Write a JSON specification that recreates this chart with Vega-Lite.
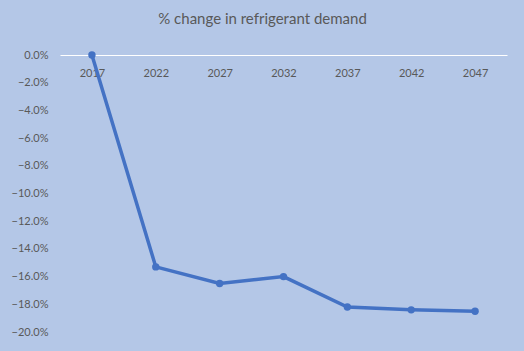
{
  "$schema": "https://vega.github.io/schema/vega-lite/v6.json",
  "autosize": "none",
  "width": 447,
  "height": 277,
  "padding": {"left": 60, "top": 55, "right": 17, "bottom": 19},
  "background": "#b4c7e7",
  "title": {
    "text": "% change in refrigerant demand",
    "font": "Lato",
    "fontSize": 15,
    "fontWeight": "normal",
    "color": "#595959",
    "anchor": "middle",
    "dx": -21,
    "offset": 21
  },
  "config": {"view": {"stroke": null}},
  "data": {
    "values": [
      {"year": "2017", "change": 0.0},
      {"year": "2022", "change": -0.153},
      {"year": "2027", "change": -0.165},
      {"year": "2032", "change": -0.160},
      {"year": "2037", "change": -0.182},
      {"year": "2042", "change": -0.184},
      {"year": "2047", "change": -0.185}
    ]
  },
  "mark": {"type": "line", "color": "#4472c4", "strokeWidth": 3.5, "point": {"filled": true, "size": 55, "color": "#4472c4"}},
  "encoding": {
    "x": {
      "field": "year",
      "type": "ordinal",
      "scale": {"paddingInner": 0, "paddingOuter": 0.5},
      "axis": {
        "title": null,
        "orient": "bottom",
        "offset": -277,
        "domainColor": "#ffffff",
        "domainWidth": 1,
        "ticks": false,
        "labelAngle": 0,
        "labelFont": "Lato",
        "labelFontSize": 11,
        "labelColor": "#595959",
        "labelPadding": 12
      }
    },
    "y": {
      "field": "change",
      "type": "quantitative",
      "scale": {"domain": [-0.2, 0], "nice": false},
      "axis": {
        "title": null,
        "values": [0, -0.02, -0.04, -0.06, -0.08, -0.1, -0.12, -0.14, -0.16, -0.18, -0.2],
        "format": ".1%",
        "domain": false,
        "ticks": false,
        "grid": false,
        "labelFont": "Lato",
        "labelFontSize": 11,
        "labelColor": "#595959",
        "labelPadding": 12
      }
    }
  }
}
